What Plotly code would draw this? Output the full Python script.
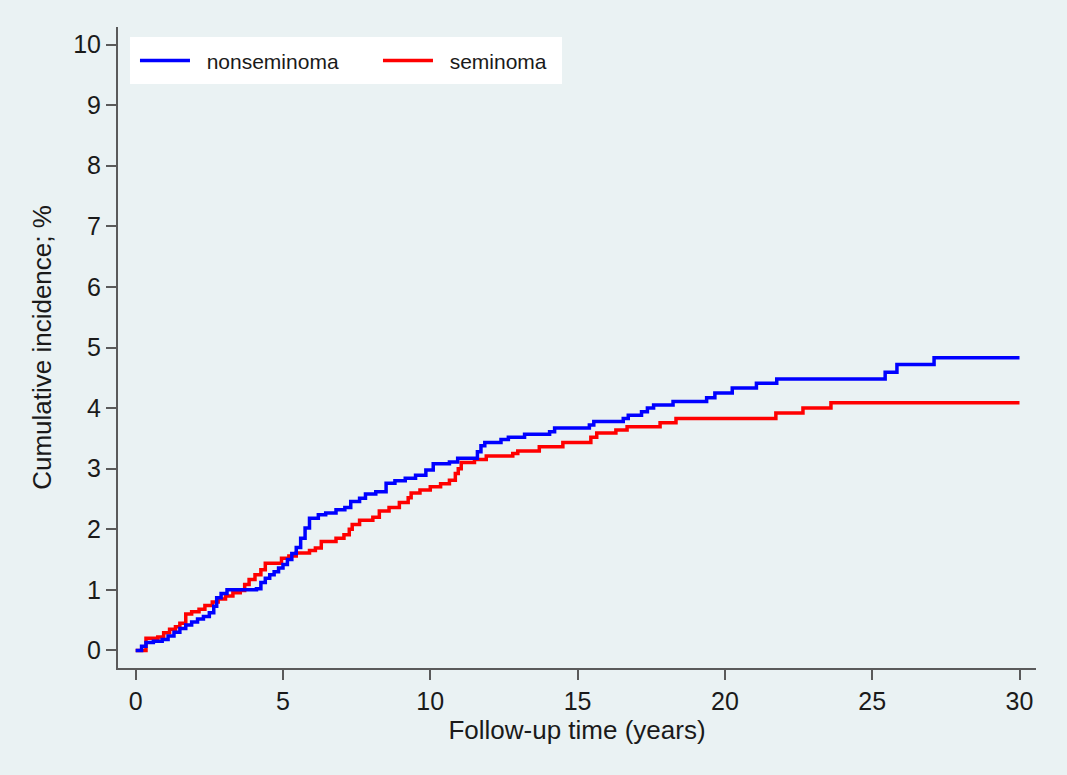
import plotly.graph_objects as go

# ---- data ----
nonsem_time = [0, 0.2, 0.35, 0.6, 0.9, 1.1, 1.3, 1.5, 1.7, 1.9, 2.1, 2.3, 2.5, 2.65, 2.75, 2.9,
               3.1, 4.1, 4.25, 4.4, 4.55, 4.7, 4.85, 5.0, 5.15, 5.3, 5.45, 5.6, 5.75, 5.9, 6.2,
               6.45, 6.8, 7.1, 7.3, 7.6, 7.8, 8.15, 8.5, 8.8, 9.15, 9.5, 9.85, 10.1, 10.65, 10.93,
               11.6, 11.72, 11.85, 12.4, 12.65, 13.2, 14.05, 14.22, 15.4, 15.55, 16.55, 16.72,
               17.17, 17.37, 17.58, 18.24, 19.38, 19.66, 20.25, 21.07, 21.76, 25.44, 25.84, 27.1, 30]
nonsem_ci = [0, 0.07, 0.13, 0.15, 0.18, 0.24, 0.3, 0.36, 0.42, 0.47, 0.52, 0.56, 0.62, 0.73, 0.87,
             0.94, 1.0, 1.02, 1.12, 1.19, 1.25, 1.3, 1.36, 1.42, 1.5, 1.6, 1.7, 1.85, 2.02, 2.18,
             2.24, 2.27, 2.32, 2.36, 2.46, 2.51, 2.58, 2.62, 2.76, 2.8, 2.84, 2.89, 2.98, 3.08,
             3.11, 3.17, 3.28, 3.38, 3.43, 3.48, 3.52, 3.57, 3.61, 3.67, 3.72, 3.78, 3.83, 3.88,
             3.94, 4.0, 4.05, 4.11, 4.17, 4.25, 4.33, 4.41, 4.48, 4.59, 4.72, 4.83, 4.83]

sem_time = [0, 0.35, 0.75, 0.95, 1.15, 1.35, 1.5, 1.7, 1.9, 2.15, 2.35, 2.6, 2.8, 3.05, 3.3, 3.55,
            3.7, 3.85, 4.05, 4.25, 4.4, 4.95, 5.2, 5.45, 5.9, 6.1, 6.3, 6.8, 7.07, 7.25, 7.35, 7.6,
            8.05, 8.27, 8.6, 8.95, 9.25, 9.35, 9.65, 10.0, 10.35, 10.65, 10.85, 10.95, 11.05, 11.5,
            11.9, 12.8, 12.97, 13.7, 14.5, 15.45, 15.65, 16.3, 16.68, 17.8, 18.34, 21.73, 22.65,
            23.6, 30]
sem_ci = [0, 0.2, 0.22, 0.29, 0.35, 0.39, 0.45, 0.6, 0.64, 0.68, 0.74, 0.8, 0.85, 0.9, 0.95, 0.99,
          1.09, 1.17, 1.25, 1.33, 1.44, 1.52, 1.56, 1.61, 1.65, 1.69, 1.8, 1.85, 1.91, 2.0, 2.08,
          2.15, 2.2, 2.3, 2.36, 2.44, 2.52, 2.6, 2.65, 2.7, 2.75, 2.81, 2.92, 3.0, 3.1, 3.15, 3.21,
          3.25, 3.29, 3.36, 3.43, 3.52, 3.59, 3.64, 3.69, 3.76, 3.83, 3.92, 4.0, 4.09, 4.09]

x_ticks = [0, 5, 10, 15, 20, 25, 30]
y_ticks = [0, 1, 2, 3, 4, 5, 6, 7, 8, 9, 10]
x_title = "Follow-up time (years)"
y_title = "Cumulative incidence; %"
series_names = ["nonseminoma", "seminoma"]

BG = "rgb(234,242,243)"
AXIS = "#5a5a5a"
FONT = "Liberation Sans, Arial, Helvetica, sans-serif"
GAP = "\u00a0\u00a0"  # small gap between legend line and its label

fig = go.Figure()
fig.add_trace(go.Scatter(x=sem_time, y=sem_ci, mode="lines", name=GAP + series_names[1],
                         line=dict(color="#ff0000", width=3.5, shape="hv"), legendrank=2))
fig.add_trace(go.Scatter(x=nonsem_time, y=nonsem_ci, mode="lines", name=GAP + series_names[0],
                         line=dict(color="#0000ff", width=3.5, shape="hv"), legendrank=1))

fig.update_layout(
    width=1067, height=775,
    margin=dict(l=118, r=31, t=27, b=107),
    paper_bgcolor=BG, plot_bgcolor=BG,
    font=dict(family=FONT, color="#1a1a1a", size=24),
    showlegend=True,
    legend=dict(orientation="h", x=0.0185, y=0.947, xanchor="left", yanchor="middle",
                bgcolor="rgba(0,0,0,0)", borderwidth=0, font=dict(size=21),
                entrywidth=178, entrywidthmode="pixels", itemwidth=50,
                traceorder="normal"),
    shapes=[dict(type="rect", xref="paper", yref="paper",
                 x0=0.0131, x1=0.4837, y0=0.9111, y1=0.9844,
                 fillcolor="white", line=dict(width=0), layer="below")],
)
fig.update_xaxes(range=[-0.6, 30.56], tickvals=x_ticks, showgrid=False, zeroline=False,
                 showline=True, linecolor=AXIS, linewidth=2,
                 ticks="outside", ticklen=10, tickwidth=2, tickcolor=AXIS,
                 tickfont=dict(size=25),
                 title=dict(text=x_title, font=dict(size=26), standoff=4))
fig.update_yaxes(range=[-0.29, 10.29], tickvals=y_ticks, showgrid=False, zeroline=False,
                 showline=True, linecolor=AXIS, linewidth=2,
                 ticks="outside", ticklen=10, tickwidth=2, tickcolor=AXIS,
                 tickfont=dict(size=25),
                 title=dict(text=y_title, font=dict(size=26), standoff=14))

fig.write_html("out.html")
